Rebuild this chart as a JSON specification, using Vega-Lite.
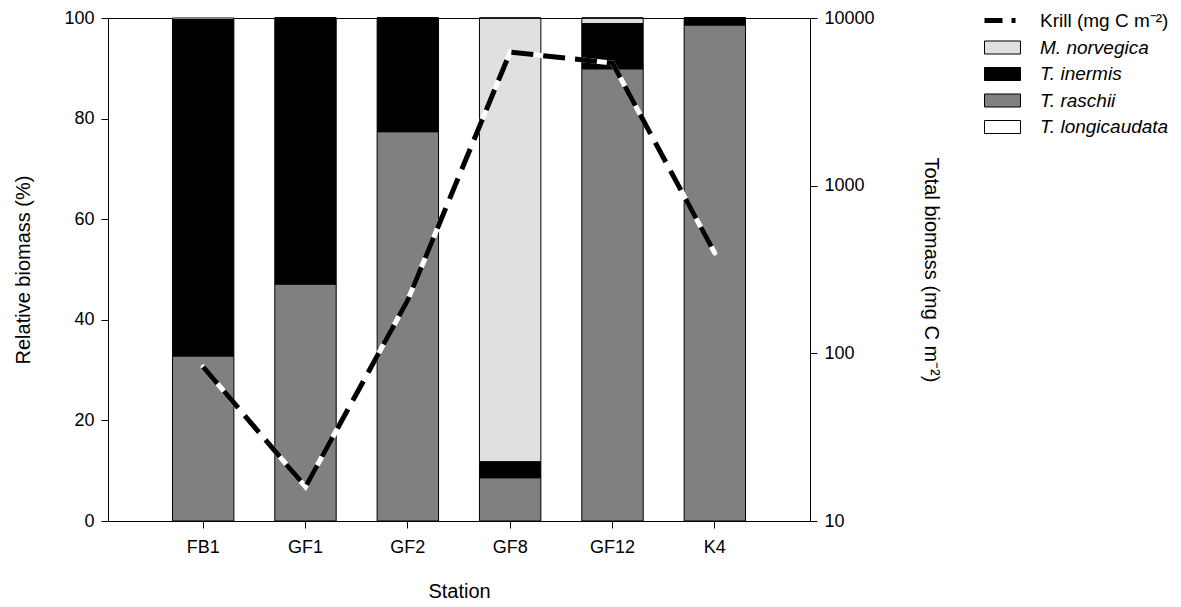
{
  "$schema": "https://vega.github.io/schema/vega-lite/v6.json",
  "autosize": {"type": "none"},
  "width": 702,
  "height": 503,
  "padding": {"left": 108, "top": 18, "right": 371, "bottom": 86},
  "background": "white",
  "config": {
    "font": "Liberation Sans",
    "view": {"stroke": "#000", "strokeWidth": 1},
    "axis": {
      "grid": false,
      "domainColor": "#000",
      "tickColor": "#000",
      "labelColor": "#000",
      "titleColor": "#000",
      "labelFont": "Liberation Sans",
      "titleFont": "Liberation Sans",
      "labelFontSize": 18,
      "titleFontSize": 20,
      "titleFontWeight": "normal",
      "tickSize": 7,
      "labelPadding": 7
    },
    "legend": {
      "labelFont": "Liberation Sans",
      "labelFontSize": 19,
      "labelColor": "#000",
      "padding": 0
    }
  },
  "datasets": {
    "comp": [
      {"station": "FB1", "species": "T. raschii", "pct": 32.8},
      {"station": "FB1", "species": "T. inermis", "pct": 66.9},
      {"station": "FB1", "species": "M. norvegica", "pct": 0},
      {"station": "FB1", "species": "T. longicaudata", "pct": 0.3},
      {"station": "GF1", "species": "T. raschii", "pct": 47.1},
      {"station": "GF1", "species": "T. inermis", "pct": 52.9},
      {"station": "GF1", "species": "M. norvegica", "pct": 0},
      {"station": "GF1", "species": "T. longicaudata", "pct": 0},
      {"station": "GF2", "species": "T. raschii", "pct": 77.4},
      {"station": "GF2", "species": "T. inermis", "pct": 22.6},
      {"station": "GF2", "species": "M. norvegica", "pct": 0},
      {"station": "GF2", "species": "T. longicaudata", "pct": 0},
      {"station": "GF8", "species": "T. raschii", "pct": 8.6},
      {"station": "GF8", "species": "T. inermis", "pct": 3.2},
      {"station": "GF8", "species": "M. norvegica", "pct": 88.2},
      {"station": "GF8", "species": "T. longicaudata", "pct": 0},
      {"station": "GF12", "species": "T. raschii", "pct": 89.9},
      {"station": "GF12", "species": "T. inermis", "pct": 9.0},
      {"station": "GF12", "species": "M. norvegica", "pct": 1.1},
      {"station": "GF12", "species": "T. longicaudata", "pct": 0},
      {"station": "K4", "species": "T. raschii", "pct": 98.6},
      {"station": "K4", "species": "T. inermis", "pct": 1.4},
      {"station": "K4", "species": "M. norvegica", "pct": 0},
      {"station": "K4", "species": "T. longicaudata", "pct": 0}
    ],
    "total": [
      {"station": "FB1", "series": "Krill (mg C m⁻²)", "biomass": 83},
      {"station": "GF1", "series": "Krill (mg C m⁻²)", "biomass": 16},
      {"station": "GF2", "series": "Krill (mg C m⁻²)", "biomass": 208},
      {"station": "GF8", "series": "Krill (mg C m⁻²)", "biomass": 6260},
      {"station": "GF12", "series": "Krill (mg C m⁻²)", "biomass": 5380},
      {"station": "K4", "series": "Krill (mg C m⁻²)", "biomass": 396}
    ]
  },
  "encoding": {
    "x": {
      "field": "station",
      "type": "nominal",
      "sort": ["FB1", "GF1", "GF2", "GF8", "GF12", "K4"],
      "scale": {"paddingInner": 0.4, "paddingOuter": 0.63},
      "axis": {"title": "Station", "labelAngle": 0, "labelPadding": 10, "titlePadding": 25}
    }
  },
  "layer": [
    {
      "data": {"name": "comp"},
      "transform": [
        {"calculate": "indexof(['T. raschii','T. inermis','M. norvegica','T. longicaudata'], datum.species)", "as": "ord"}
      ],
      "mark": {"type": "bar", "stroke": "#000", "strokeWidth": 1},
      "encoding": {
        "y": {
          "field": "pct",
          "type": "quantitative",
          "stack": "zero",
          "scale": {"domain": [0, 100], "nice": false},
          "axis": {"title": "Relative biomass (%)", "values": [0, 20, 40, 60, 80, 100], "titlePadding": 30}
        },
        "order": {"field": "ord", "type": "quantitative"},
        "fill": {
          "field": "species",
          "type": "nominal",
          "scale": {
            "domain": ["M. norvegica", "T. inermis", "T. raschii", "T. longicaudata"],
            "range": ["#e0e0e0", "#000000", "#808080", "#ffffff"]
          },
          "legend": {
            "title": null,
            "orient": "none",
            "legendX": 885,
            "legendY": 20,
            "symbolType": "M-2.57,-0.93H2.57V0.93H-2.57Z",
            "symbolSize": 196,
            "symbolStrokeColor": "#000",
            "symbolStrokeWidth": 1,
            "symbolOpacity": 1,
            "labelOffset": 28,
            "labelFontStyle": "italic",
            "rowPadding": 6.5
          }
        }
      }
    },
    {
      "data": {"name": "total"},
      "encoding": {
        "y": {
          "field": "biomass",
          "type": "quantitative",
          "scale": {"type": "log", "domain": [10, 10000], "nice": false},
          "axis": {"orient": "right", "title": "Total biomass (mg C m⁻²)", "values": [10, 100, 1000, 10000], "format": "d", "titlePadding": 46}
        }
      },
      "layer": [
        {
          "mark": {"type": "line", "color": "#fff", "strokeWidth": 5, "strokeCap": "round"}
        },
        {
          "mark": {"type": "line", "strokeWidth": 5, "strokeDash": [22, 10]},
          "encoding": {
            "stroke": {
              "field": "series",
              "type": "nominal",
              "scale": {"domain": ["Krill (mg C m⁻²)"], "range": ["#000"]},
              "legend": {
                "title": null,
                "orient": "none",
                "legendX": 885,
                "legendY": -7,
                "symbolType": "M-2.57,0H2.57",
                "symbolSize": 196,
                "symbolStrokeWidth": 5,
                "symbolDash": [18, 9, 4, 9],
                "symbolFillColor": "transparent",
                "labelOffset": 28,
                "labelFontStyle": "normal"
              }
            }
          }
        }
      ]
    }
  ],
  "resolve": {"scale": {"y": "independent"}}
}
